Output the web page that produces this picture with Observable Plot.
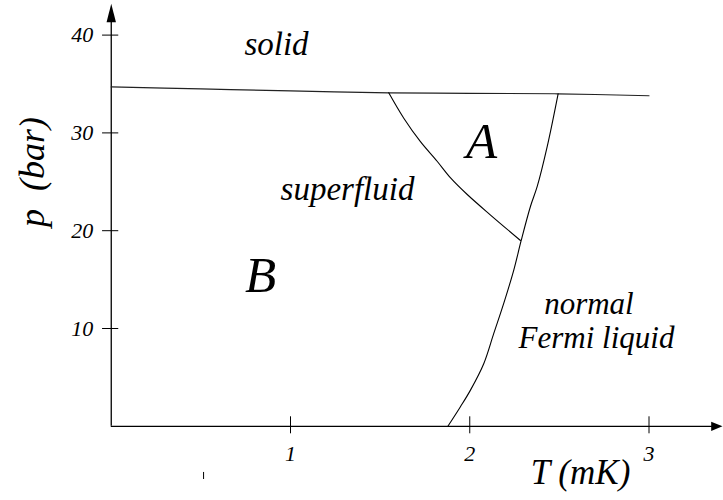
<!DOCTYPE html>
<html><head><meta charset="utf-8">
<script src="https://cdn.jsdelivr.net/npm/d3@7"></script>
<script src="https://cdn.jsdelivr.net/npm/@observablehq/plot@0.6"></script>
<style>
html,body{margin:0;padding:0;background:#fff}
#chart{position:absolute;left:0;top:0}
</style>
</head><body><div id="chart"></div>
<script>
// Melting curve (solid / liquid boundary)
const meltingT = [0, 0.5, 1.0, 1.55, 2.0, 2.49, 3.0];
const meltingP = [34.7, 34.5, 34.3, 34.1, 34.05, 34.0, 33.8];
// A–B transition line
const abT = [1.548, 1.632, 1.725, 1.818, 1.893, 1.986, 2.116, 2.283];
const abP = [34.1, 31.5, 29.1, 27.1, 25.4, 23.7, 21.6, 19.0];
// Superfluid transition line (normal Fermi liquid boundary)
const tcT = [2.493, 2.432, 2.376, 2.339, 2.287, 2.246, 2.190, 2.134, 2.078, 2.004, 1.948, 1.878];
const tcP = [34.0, 28.6, 24.5, 22.5, 19.0, 16.0, 12.6, 9.5, 6.4, 3.7, 2.0, 0];
// Ticks
const xTicks = [1, 2, 3];
const yTicks = [10, 20, 30, 40];
// Region labels (placed in data units: T in mK, p in bar)
const regionNames = ["solid", "superfluid"];
const regionT = [0.922, 1.318];
const regionP = [38.0, 23.1];
const normalNames = ["normal", "Fermi liquid"];
const normalT = [2.665, 2.707];
const normalP = [11.5, 7.96];
const phaseNames = ["A", "B"];
const phaseT = [2.066, 0.833];
const phaseP = [27.4, 13.7];
// Axis extents and titles
const xAxisEnd = 3.41;
const yAxisEnd = 43.2;
const xTitle = "T (mK)";
const yTitle = "p\u00a0\u00a0(bar)";
const xTitlePos = [2.618, -5.85];
const yTitlePos = [-0.44, 26.0];
const strayMark = [0.515, -4.72, -5.44];

const pts = (T, P) => T.map((t, i) => ({T: t, p: P[i]}));

const arrowUp = {draw(ctx){ ctx.moveTo(0,0); ctx.lineTo(4.7,18.4); ctx.lineTo(-4.7,18.4); ctx.closePath(); }};
const arrowRight = {draw(ctx){ ctx.moveTo(0,0); ctx.lineTo(-11.3,-4.6); ctx.lineTo(-11.3,4.6); ctx.closePath(); }};
const hTick = {draw(ctx){ ctx.moveTo(-9.2,0); ctx.lineTo(7,0); }};
const vTick = {draw(ctx){ ctx.moveTo(0,-10); ctx.lineTo(0,7); }};

const font = "Liberation Serif";
const txt = {fontFamily: font, fontStyle: "italic", fill: "black"};

const chart = Plot.plot({
  width: 723,
  height: 500,
  margin: 0,
  x: {domain: [0, 3], range: [110.75, 648.5], axis: null},
  y: {domain: [0, 40], range: [425.8, 34.6], axis: null},
  style: {background: "white", color: "black", fontFamily: font, overflow: "visible"},
  marks: [
    // axes
    Plot.ruleY([0], {x1: 0, x2: xAxisEnd - 0.05, stroke: "black", strokeWidth: 1.3}),
    Plot.ruleX([0], {y1: 0, y2: yAxisEnd - 1.8, stroke: "black", strokeWidth: 1.3}),
    Plot.dot([{T: xAxisEnd, p: 0}], {x: "T", y: "p", symbol: arrowRight, fill: "black", stroke: "none"}),
    Plot.dot([{T: 0, p: yAxisEnd}], {x: "T", y: "p", symbol: arrowUp, fill: "black", stroke: "none"}),
    Plot.dot(xTicks, {x: d => d, y: d => 0, symbol: vTick, fill: "none", stroke: "black", strokeWidth: 1}),
    Plot.dot(yTicks, {x: d => 0, y: d => d, symbol: hTick, fill: "none", stroke: "black", strokeWidth: 1}),
    Plot.text(xTicks, {x: d => d, y: d => 0, text: d => String(d), textAnchor: "middle", lineAnchor: "bottom", dy: 35, fontSize: 22, ...txt}),
    Plot.text(yTicks, {x: d => 0, y: d => d, text: d => String(d), textAnchor: "end", lineAnchor: "middle", dx: -18, fontSize: 22, ...txt}),
    Plot.ruleX([strayMark[0]], {y1: strayMark[1], y2: strayMark[2], stroke: "black", strokeWidth: 1}),
    // phase boundaries
    Plot.line(pts(meltingT, meltingP), {x: "T", y: "p", curve: "catmull-rom", stroke: "#222", strokeWidth: 1.2}),
    Plot.line(pts(abT, abP), {x: "T", y: "p", curve: "catmull-rom", stroke: "black", strokeWidth: 1.1}),
    Plot.line(pts(tcT, tcP), {x: "T", y: "p", curve: "catmull-rom", stroke: "black", strokeWidth: 1.1}),
    // labels
    Plot.text(regionNames, {x: (d, i) => regionT[i], y: (d, i) => regionP[i], text: d => d, textAnchor: "middle", lineAnchor: "bottom", fontSize: 33, ...txt}),
    Plot.text(normalNames, {x: (d, i) => normalT[i], y: (d, i) => normalP[i], text: d => d, textAnchor: "middle", lineAnchor: "bottom", fontSize: 31, ...txt}),
    Plot.text(phaseNames, {x: (d, i) => phaseT[i], y: (d, i) => phaseP[i], text: d => d, textAnchor: "middle", lineAnchor: "bottom", fontSize: 51, ...txt}),
    Plot.text([xTitle], {x: d => xTitlePos[0], y: d => xTitlePos[1], text: d => d, textAnchor: "middle", lineAnchor: "bottom", fontSize: 35, ...txt}),
    Plot.text([yTitle], {x: d => yTitlePos[0], y: d => yTitlePos[1], text: d => d, textAnchor: "middle", lineAnchor: "middle", rotate: -90, fontSize: 36, ...txt})
  ]
});
document.getElementById("chart").appendChild(chart);
</script>
</body></html>
